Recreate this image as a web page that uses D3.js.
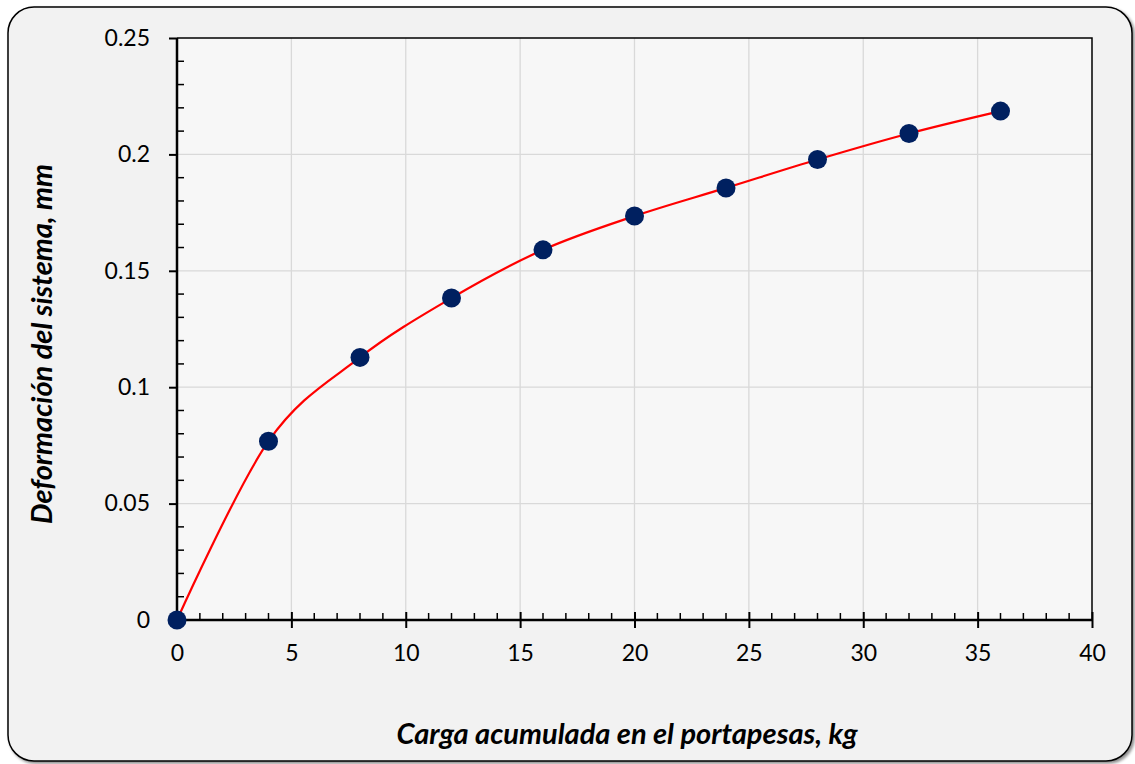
<!DOCTYPE html>
<html>
<head>
<meta charset="utf-8">
<script src="https://cdn.jsdelivr.net/npm/d3@7"></script>
<style>
  body { margin: 0; background: #ffffff; }
  text { font-family: Lato, "Open Sans", sans-serif; }
</style>
</head>
<body>
<svg id="chart"></svg>
<script>
// data
const carga = [0, 4, 8, 12, 16, 20, 24, 28, 32, 36];
const deformacion = [0, 0.0768, 0.1128, 0.1383, 0.1590, 0.1735, 0.1856, 0.1978, 0.2090, 0.2186];
const xTicks = [0, 5, 10, 15, 20, 25, 30, 35, 40];
const yTicks = [0, 0.05, 0.1, 0.15, 0.2, 0.25];

const W = 1135, H = 764;
let margin = {top: 38, right: 43, bottom: 144, left: 177},
    width = W - margin.left - margin.right,
    height = H - margin.top - margin.bottom;

let svg = d3.select("#chart")
    .attr("width", W)
    .attr("height", H);

// drop shadow for the outer frame
let defs = svg.append("defs");
let f = defs.append("filter").attr("id", "shadow")
    .attr("x", "-5%").attr("y", "-5%").attr("width", "110%").attr("height", "110%");
f.append("feDropShadow").attr("dx", 2).attr("dy", 2).attr("stdDeviation", 1.5)
    .attr("flood-color", "#000").attr("flood-opacity", 0.45);

svg.append("rect")
    .attr("x", 8).attr("y", 7)
    .attr("width", 1124).attr("height", 754)
    .attr("rx", 26).attr("ry", 26)
    .attr("fill", "#f2f2f2")
    .attr("stroke", "#000")
    .attr("stroke-width", 1.5)
    .attr("filter", "url(#shadow)");

let g = svg.append("g")
    .attr("transform", "translate(" + margin.left + "," + margin.top + ")");

// scales
let x = d3.scaleLinear().domain([0, 40]).range([0, width]);
let y = d3.scaleLinear().domain([0, 0.25]).range([height, 0]);

// plot area
g.append("rect")
    .attr("width", width).attr("height", height)
    .attr("fill", "#f7f7f7");

// gridlines
g.append("g").selectAll("line")
    .data(xTicks.slice(1, -1))
    .enter().append("line")
    .attr("x1", d => x(d)).attr("x2", d => x(d))
    .attr("y1", 0).attr("y2", height)
    .attr("stroke", "#d9d9d9").attr("stroke-width", 1.3);

g.append("g").selectAll("line")
    .data(yTicks.slice(1, -1))
    .enter().append("line")
    .attr("y1", d => y(d)).attr("y2", d => y(d))
    .attr("x1", 0).attr("x2", width)
    .attr("stroke", "#d9d9d9").attr("stroke-width", 1.3);

// plot border (top + right)
g.append("path")
    .attr("d", "M0,0H" + width + "V" + height)
    .attr("fill", "none").attr("stroke", "#000").attr("stroke-width", 1.5);

// minor ticks (inside)
let xMinor = d3.range(0, 41, 1).filter(d => d % 5 !== 0);
let yMinor = d3.range(0, 26, 1).map(d => d / 100).filter((d, i) => i % 5 !== 0);

g.append("g").selectAll("line")
    .data(xMinor)
    .enter().append("line")
    .attr("x1", d => x(d)).attr("x2", d => x(d))
    .attr("y1", height).attr("y2", height - 7)
    .attr("stroke", "#000").attr("stroke-width", 1.5);

g.append("g").selectAll("line")
    .data(yMinor)
    .enter().append("line")
    .attr("y1", d => y(d)).attr("y2", d => y(d))
    .attr("x1", 0).attr("x2", 7)
    .attr("stroke", "#000").attr("stroke-width", 1.5);

// x axis
let xAxis = g.append("g")
    .attr("transform", "translate(0," + height + ")")
    .call(d3.axisBottom(x).tickValues(xTicks).tickSize(8).tickPadding(17).tickFormat(d3.format("d")));
xAxis.selectAll(".tick line").attr("y1", -8).attr("stroke-width", 2);
xAxis.select(".domain").attr("stroke-width", 2.5).attr("d", "M0,0H" + width);

// y axis
let yAxis = g.append("g")
    .call(d3.axisLeft(y).tickValues(yTicks).tickSize(8).tickPadding(19).tickFormat(d => d === 0 ? "0" : String(+d.toFixed(2))));
yAxis.selectAll(".tick line").attr("x1", 0).attr("x2", -8).attr("stroke-width", 2);
yAxis.select(".domain").attr("stroke-width", 2.5).attr("d", "M0," + height + "V0");

svg.selectAll(".tick text")
    .attr("font-family", "Lato, 'Open Sans', sans-serif")
    .attr("font-size", "23px")
    .attr("fill", "#000");

// smooth line
let pts = carga.map((c, i) => [c, deformacion[i]]);
let line = d3.line()
    .x(d => x(d[0])).y(d => y(d[1]))
    .curve(d3.curveCardinal.tension(0));

g.append("path")
    .datum(pts)
    .attr("d", line)
    .attr("fill", "none")
    .attr("stroke", "#ff0000")
    .attr("stroke-width", 2.2);

// markers
g.selectAll("circle")
    .data(pts)
    .enter().append("circle")
    .attr("cx", d => x(d[0]))
    .attr("cy", d => y(d[1]))
    .attr("r", 9.5)
    .attr("fill", "#002060");

// axis titles
svg.append("text")
    .attr("x", 627)
    .attr("y", 744)
    .attr("text-anchor", "middle")
    .attr("font-size", "29px")
    .attr("font-weight", "bold")
    .attr("font-style", "italic")
    .text("Carga acumulada en el portapesas, kg");

svg.append("text")
    .attr("transform", "translate(52,344)rotate(-90)")
    .attr("text-anchor", "middle")
    .attr("font-size", "29px")
    .attr("font-weight", "bold")
    .attr("font-style", "italic")
    .text("Deformación del sistema, mm");
</script>
</body>
</html>
